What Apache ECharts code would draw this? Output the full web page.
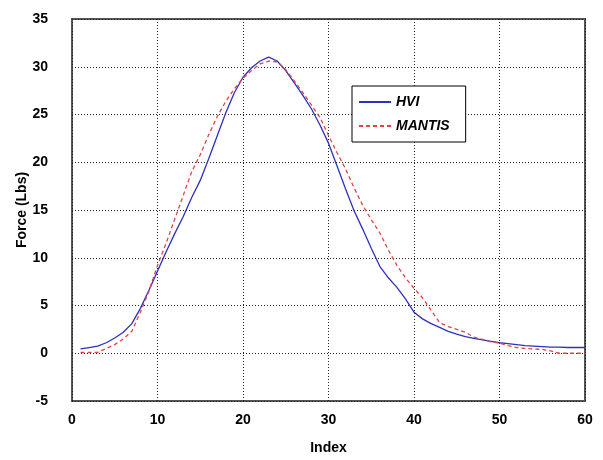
<!DOCTYPE html>
<html>
<head>
<meta charset="utf-8">
<script src="https://cdn.jsdelivr.net/npm/echarts@6/dist/echarts.min.js"></script>
<style>html,body{margin:0;padding:0;background:#fff}#c{width:603px;height:460px}</style>
</head>
<body>
<div id="c"></div>
<script>
var indexValues = [1,2,3,4,5,6,7,8,9,10,11,12,13,14,15,16,17,18,19,20,21,22,23,24,25,26,27,28,29,30,31,32,33,34,35,36,37,38,39,40,41,42,43,44,45,46,47,48,49,50,51,52,53,54,55,56,57,58,59,60];
var hviForce = [0.45,0.6,0.75,1.1,1.6,2.2,3.1,4.7,6.6,8.6,10.6,12.5,14.3,16.3,18.1,20.4,22.8,25.2,27.3,28.9,29.9,30.6,31.0,30.6,29.6,28.3,27.0,25.6,23.9,22.0,19.6,17.2,14.9,13.0,11.0,9.1,7.9,6.9,5.7,4.3,3.6,3.1,2.7,2.3,2.0,1.75,1.55,1.4,1.25,1.1,1.0,0.9,0.8,0.75,0.7,0.65,0.65,0.6,0.6,0.6];
var mantisForce = [0.1,0.1,0.1,0.5,0.9,1.5,2.3,4.3,6.5,9.2,11.5,14.0,16.5,19.0,20.8,22.9,24.8,26.4,27.7,28.8,29.6,30.3,30.6,30.5,29.7,28.5,27.3,26.0,24.7,22.8,21.0,19.3,17.3,15.5,14.0,12.6,10.8,9.2,7.9,6.8,5.8,4.5,3.2,2.8,2.5,2.2,1.7,1.45,1.2,1.05,0.8,0.6,0.5,0.45,0.4,0.25,0,0,0,0];
var xTicks = [0,10,20,30,40,50,60];
var yTicks = [-5,0,5,10,15,20,25,30,35];
var seriesNames = ['HVI','MANTIS'];

function pairs(ys){ return indexValues.map(function(x,i){ return [x, ys[i]]; }); }

var chart = echarts.init(document.getElementById('c'), null, {renderer:'canvas'});
var labelFont = {fontFamily:'Liberation Sans, Arial, sans-serif', fontWeight:'bold', fontSize:14, color:'#000'};
var gridLine = {show:true, lineStyle:{type:[1,2], color:'#222', width:1}};
chart.setOption({
  animation:false,
  backgroundColor:'#fff',
  grid:{left:72, right:18, top:19, bottom:59, show:true, borderColor:'#555', borderWidth:2, backgroundColor:'transparent'},
  legend:{
    data:seriesNames, orient:'vertical', left:352, top:86, width:110,
    backgroundColor:'#fff', borderColor:'#000', borderWidth:1,
    padding:[9,16,9,6], itemGap:10, itemWidth:32, itemHeight:10,
    itemStyle:{opacity:0},
    textStyle:{fontFamily:'Liberation Sans, Arial, sans-serif', fontStyle:'italic', fontWeight:'bold', fontSize:14, color:'#000'}
  },
  xAxis:{
    type:'value', min:xTicks[0], max:xTicks[xTicks.length-1], interval:10,
    name:'Index', nameLocation:'middle', nameGap:40,
    nameTextStyle:labelFont,
    axisLine:{show:false}, axisTick:{show:false},
    axisLabel:Object.assign({margin:12}, labelFont),
    splitLine:gridLine
  },
  yAxis:{
    type:'value', min:yTicks[0], max:yTicks[yTicks.length-1], interval:5,
    name:'Force (Lbs)', nameLocation:'middle', nameGap:43, nameMoveOverlap:false,
    nameTextStyle:labelFont,
    axisLine:{show:false}, axisTick:{show:false},
    axisLabel:Object.assign({margin:24}, labelFont),
    splitLine:gridLine
  },
  series:[
    {name:seriesNames[0], type:'line', data:pairs(hviForce), symbol:'none', lineStyle:{color:'#2f2fc0', width:1.3}, itemStyle:{color:'#2f2fc0'}},
    {name:seriesNames[1], type:'line', data:pairs(mantisForce), symbol:'none', lineStyle:{color:'#e04444', width:1.3, type:[4,3]}, itemStyle:{color:'#e04444'}}
  ]
});
</script>
</body>
</html>
